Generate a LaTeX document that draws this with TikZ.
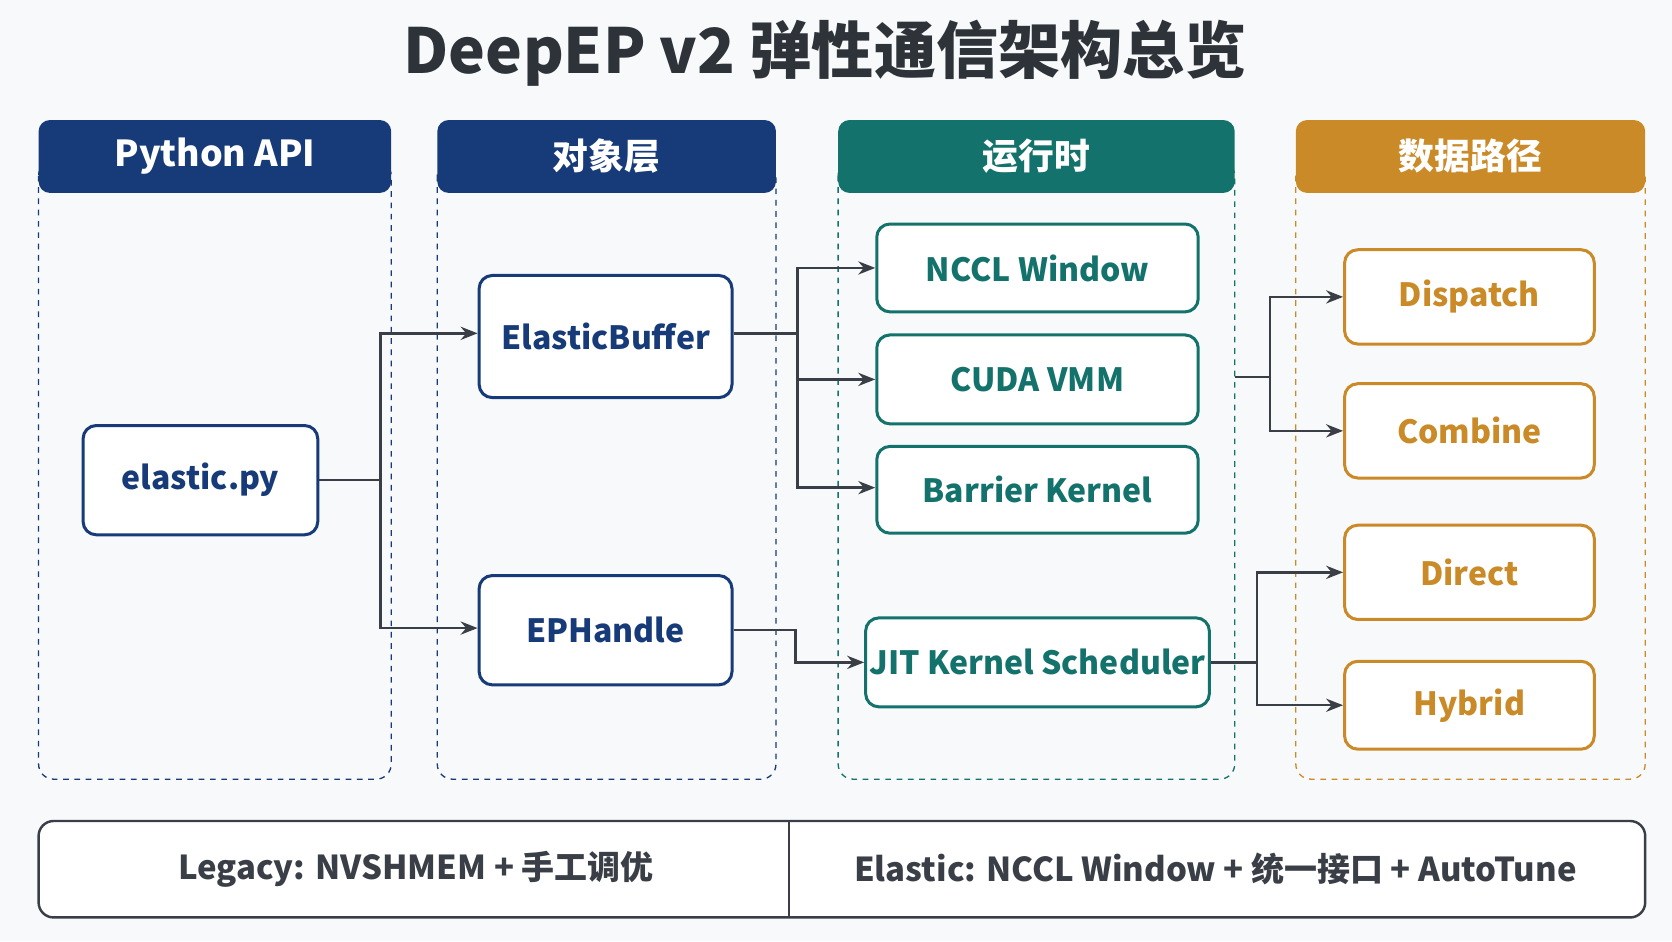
\documentclass[tikz,border=0pt]{standalone}
\usepackage{fontspec}
\setmainfont{Noto Sans CJK SC}
\usetikzlibrary{arrows.meta}
\definecolor{navy}{HTML}{173A78}
\definecolor{teal}{HTML}{13726B}
\definecolor{ochre}{HTML}{C98A27}
\definecolor{ink}{HTML}{3A3F47}
\definecolor{bg}{HTML}{F8F9FA}
\tikzset{
  hdr/.style={rounded corners=6pt, text=white, font=\fontsize{19}{23}\selectfont\bfseries, minimum height=1.36cm},
  panel/.style={dashed, line width=0.7pt, rounded corners=8pt},
  blk/.style={draw=#1, text=#1, rounded corners=7pt, line width=1.6pt, fill=white, inner sep=2pt, font=\fontsize{17}{21}\selectfont\bfseries},
  conn/.style={ink, line width=1.3pt, -{Stealth[length=9pt,width=7pt]}},
  ln/.style={ink, line width=1.3pt},
  note/.style={font=\fontsize{17.5}{21}\selectfont\bfseries, text=ink},
}
\begin{document}
\begin{tikzpicture}[x=0.02cm, y=-0.02cm]
  \fill[bg] (0,0) rectangle (1560,878);
  \useasboundingbox (0,0) rectangle (1560,878);
  \node[font=\fontsize{33}{38}\selectfont\bfseries, text=ink!80!black] (title) at (770,50) {DeepEP v2 弹性通信架构总览};
  % panels
  \draw[panel, navy] (36,150) rectangle (365,727);
  \draw[panel, navy] (408,150) rectangle (724,727);
  \draw[panel, teal] (782,150) rectangle (1152,727);
  \draw[panel, ochre] (1209,150) rectangle (1535,727);
  \node[hdr, fill=navy, minimum width=6.58cm] (hpy) at (200.5,146) {Python API};
  \node[hdr, fill=navy, minimum width=6.32cm] (hobj) at (566,146) {对象层};
  \node[hdr, fill=teal, minimum width=7.40cm] (hrt) at (967,146) {运行时};
  \node[hdr, fill=ochre, minimum width=6.52cm] (hdp) at (1372,146) {数据路径};
  % blocks
  \node[blk=navy, minimum width=4.38cm, minimum height=2.04cm] (elastic) at (187,448) {elastic.py};
  \node[blk=navy, minimum width=4.72cm, minimum height=2.28cm] (ebuf) at (565,314) {ElasticBuffer};
  \node[blk=navy, minimum width=4.72cm, minimum height=2.04cm] (ephandle) at (565,588) {EPHandle};
  \node[blk=teal, minimum width=6.0cm, minimum height=1.64cm] (nccl) at (968,250) {NCCL Window};
  \node[blk=teal, minimum width=6.0cm, minimum height=1.66cm] (vmm) at (968,354) {CUDA VMM};
  \node[blk=teal, minimum width=6.0cm, minimum height=1.62cm] (barrier) at (968,457) {Barrier Kernel};
  \node[blk=teal, minimum width=6.0cm, minimum height=1.66cm] (jit) at (968,618) {JIT Kernel Scheduler};
  \node[blk=ochre, minimum width=4.66cm, minimum height=1.76cm] (dispatch) at (1371,277) {Dispatch};
  \node[blk=ochre, minimum width=4.66cm, minimum height=1.76cm] (combine) at (1371,402) {Combine};
  \node[blk=ochre, minimum width=4.66cm, minimum height=1.76cm] (direct) at (1371,534) {Direct};
  \node[blk=ochre, minimum width=4.66cm, minimum height=1.64cm] (hybrid) at (1371,658) {Hybrid};
  % connectors
  \draw[ln] (elastic.east) -- (355,448) coordinate (s1);
  \draw[conn] (s1) |- (ebuf.west |- 0,311);
  \draw[conn] (s1) |- (ephandle.west |- 0,586);
  \draw[ln] (ebuf.east |- 0,311) -- (744,311) coordinate (s2);
  \draw[conn] (s2) |- (nccl.west);
  \draw[conn] (s2) |- (vmm.west);
  \draw[conn] (s2) |- (barrier.west |- 0,455);
  \draw[conn] (ephandle.east) -- (742,588) |- (jit.west);
  \coordinate (rtedge) at (1152,352);
  \draw[ln] (rtedge) -- (1185,352) coordinate (s3);
  \draw[conn] (s3) |- (dispatch.west);
  \draw[conn] (s3) |- (combine.west);
  \draw[ln] (jit.east) -- (1173,618) coordinate (s4);
  \draw[conn] (s4) |- (direct.west);
  \draw[conn] (s4) |- (hybrid.west);
  % footer
  \draw[ink, line width=1.3pt, rounded corners=8pt, fill=white] (36,766) rectangle (1535,856);
  \draw[ink, line width=1.3pt] (736,766) -- (736,856);
  \node[note] (legacy) at (388,811) {Legacy: NVSHMEM + 手工调优};
  \node[note] (elasticnote) at (1134,811) {Elastic: NCCL Window + 统一接口 + AutoTune};
\end{tikzpicture}
\end{document}
